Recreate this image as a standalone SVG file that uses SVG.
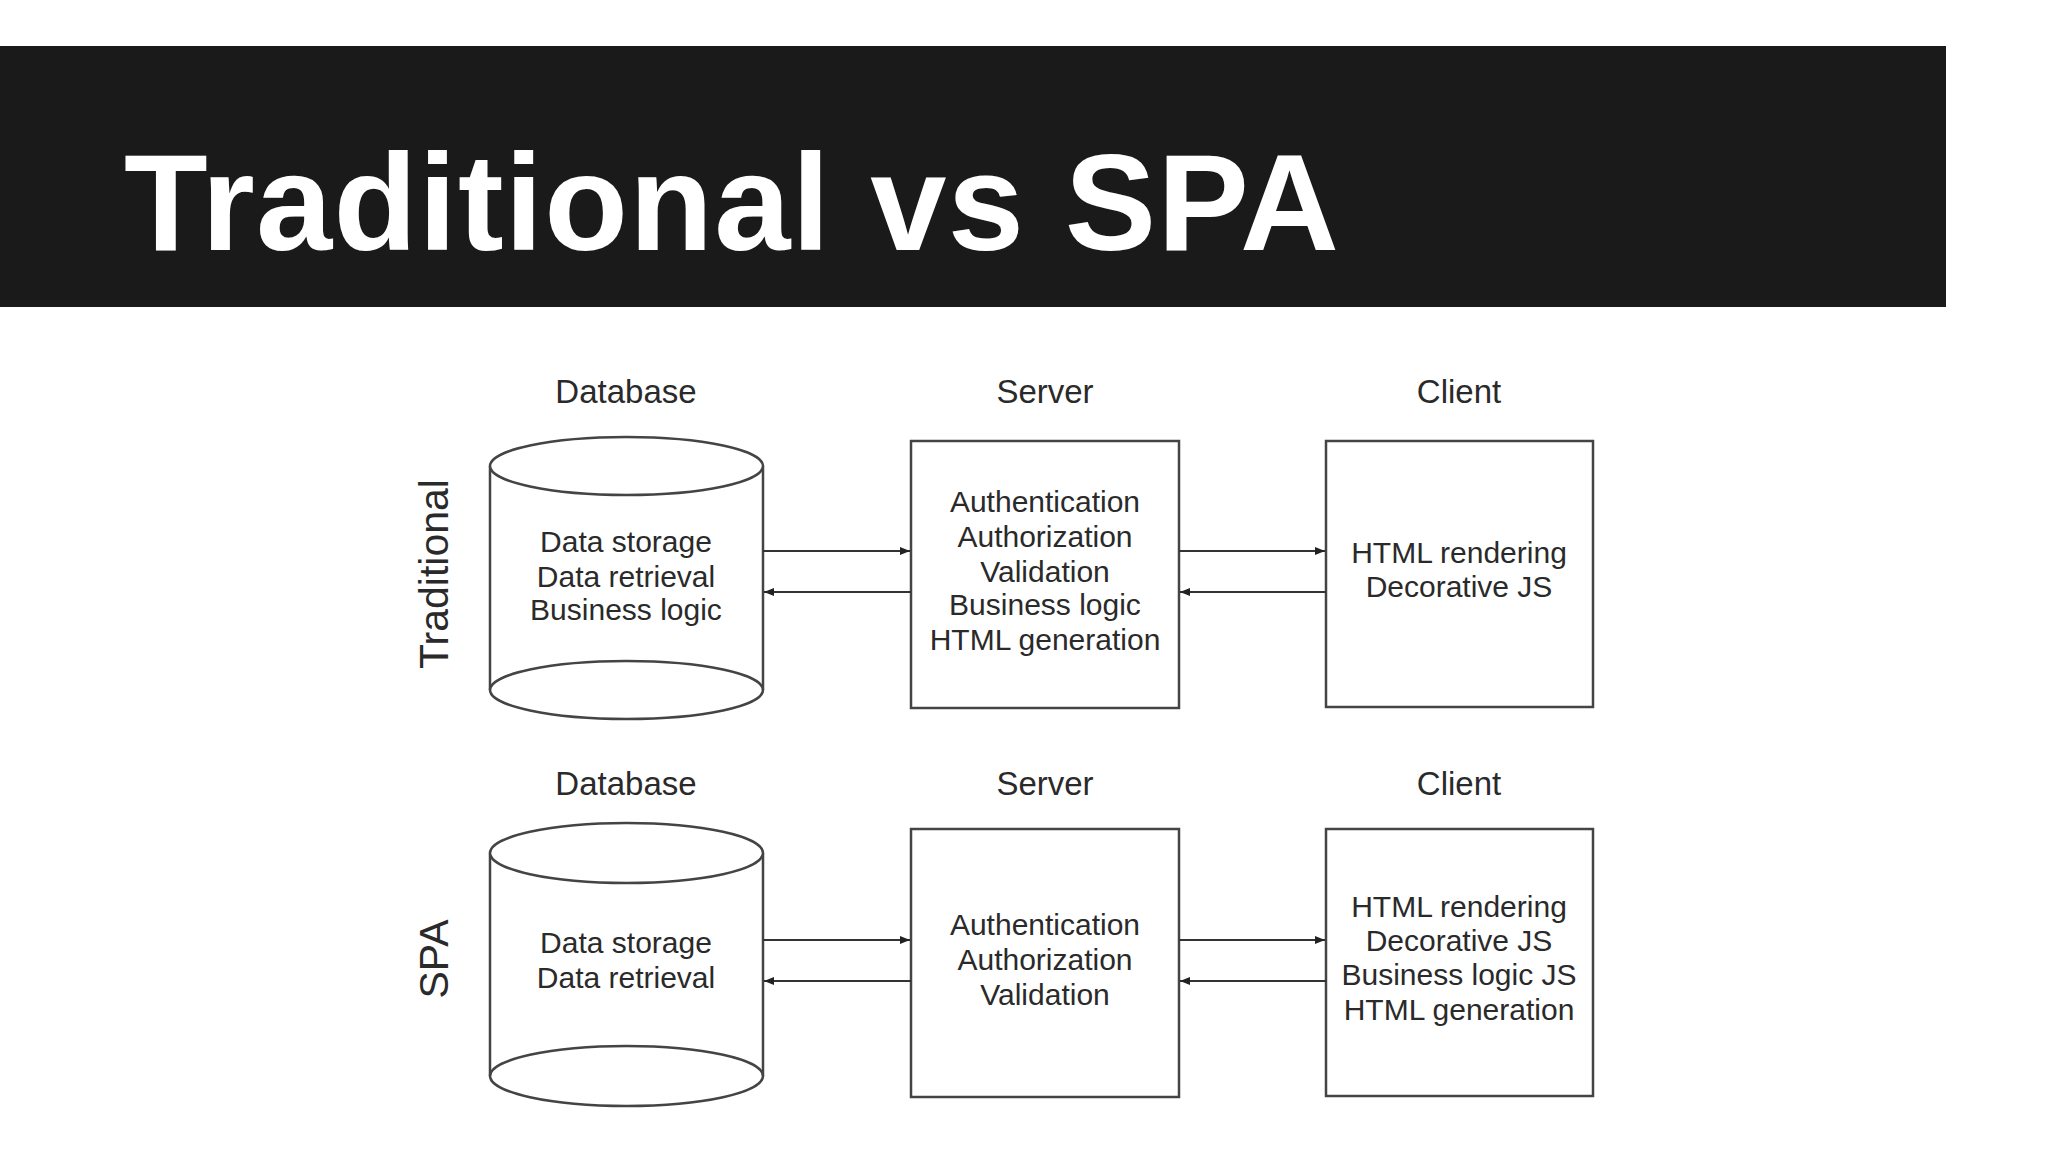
<svg xmlns="http://www.w3.org/2000/svg" width="2048" height="1152" viewBox="0 0 2048 1152">
<defs>
<style>
.hdr{font-family:"Liberation Sans",Arial,sans-serif;font-size:33px;fill:#2a2a2a;text-anchor:middle}
.txt{font-family:"Liberation Sans",Arial,sans-serif;font-size:30px;fill:#2a2a2a;text-anchor:middle}
.side{font-family:"Liberation Sans",Arial,sans-serif;font-size:41px;fill:#2a2a2a;text-anchor:middle}
.shape{fill:#ffffff;stroke:#444;stroke-width:2.5}
.conn{stroke:#333;stroke-width:2;fill:none}
</style>
<marker id="ah" viewBox="0 0 10 8" refX="10" refY="4" markerWidth="10" markerHeight="8" markerUnits="userSpaceOnUse" orient="auto">
<path d="M0,0 L10,4 L0,8 Z" fill="#222"/>
</marker>
</defs>
<rect width="2048" height="1152" fill="#ffffff"/>
<g id="title">
<rect x="0" y="46" width="1946" height="261" fill="#1a1a1a"/>
<text x="124" y="250" font-family="Liberation Sans,Arial,sans-serif" font-weight="bold" font-size="137" letter-spacing="1.3" fill="#ffffff">Traditional vs SPA</text>
</g>
<g id="labels">
<text class="side" transform="translate(448,574) rotate(-90)">Traditional</text>
<text class="side" transform="translate(448,959) rotate(-90)">SPA</text>
<text class="hdr" x="626" y="403">Database</text>
<text class="hdr" x="1045" y="403">Server</text>
<text class="hdr" x="1459" y="403">Client</text>
<text class="hdr" x="626" y="795">Database</text>
<text class="hdr" x="1045" y="795">Server</text>
<text class="hdr" x="1459" y="795">Client</text>
</g>
<g id="trad-db">
<path class="shape" d="M490,466 L490,690 A136.5,29 0 0 0 763,690 L763,466"/>
<ellipse class="shape" cx="626.5" cy="466" rx="136.5" ry="29"/>
<path class="shape" style="fill:none" d="M490,690 A136.5,29 0 0 1 763,690"/>
<text class="txt" x="626" y="552">Data storage</text>
<text class="txt" x="626" y="587">Data retrieval</text>
<text class="txt" x="626" y="620">Business logic</text>
</g>
<g id="trad-server">
<rect class="shape" x="911" y="441" width="268" height="267"/>
<text class="txt" x="1045" y="512">Authentication</text>
<text class="txt" x="1045" y="547">Authorization</text>
<text class="txt" x="1045" y="582">Validation</text>
<text class="txt" x="1045" y="615">Business logic</text>
<text class="txt" x="1045" y="650">HTML generation</text>
</g>
<g id="trad-client">
<rect class="shape" x="1326" y="441" width="267" height="266"/>
<text class="txt" x="1459" y="563">HTML rendering</text>
<text class="txt" x="1459" y="597">Decorative JS</text>
</g>
<g id="spa-db">
<path class="shape" d="M490,853 L490,1076 A136.5,30 0 0 0 763,1076 L763,853"/>
<ellipse class="shape" cx="626.5" cy="853" rx="136.5" ry="30"/>
<path class="shape" style="fill:none" d="M490,1076 A136.5,30 0 0 1 763,1076"/>
<text class="txt" x="626" y="953">Data storage</text>
<text class="txt" x="626" y="988">Data retrieval</text>
</g>
<g id="spa-server">
<rect class="shape" x="911" y="829" width="268" height="268"/>
<text class="txt" x="1045" y="935">Authentication</text>
<text class="txt" x="1045" y="970">Authorization</text>
<text class="txt" x="1045" y="1005">Validation</text>
</g>
<g id="spa-client">
<rect class="shape" x="1326" y="829" width="267" height="267"/>
<text class="txt" x="1459" y="917">HTML rendering</text>
<text class="txt" x="1459" y="951">Decorative JS</text>
<text class="txt" x="1459" y="985">Business logic JS</text>
<text class="txt" x="1459" y="1020">HTML generation</text>
</g>
<g id="connectors">
<line class="conn" x1="763" y1="551" x2="910" y2="551" marker-end="url(#ah)"/>
<line class="conn" x1="911" y1="592" x2="764" y2="592" marker-end="url(#ah)"/>
<line class="conn" x1="1179" y1="551" x2="1325" y2="551" marker-end="url(#ah)"/>
<line class="conn" x1="1326" y1="592" x2="1180" y2="592" marker-end="url(#ah)"/>
<line class="conn" x1="763" y1="940" x2="910" y2="940" marker-end="url(#ah)"/>
<line class="conn" x1="911" y1="981" x2="764" y2="981" marker-end="url(#ah)"/>
<line class="conn" x1="1179" y1="940" x2="1325" y2="940" marker-end="url(#ah)"/>
<line class="conn" x1="1326" y1="981" x2="1180" y2="981" marker-end="url(#ah)"/>
</g>
</svg>
